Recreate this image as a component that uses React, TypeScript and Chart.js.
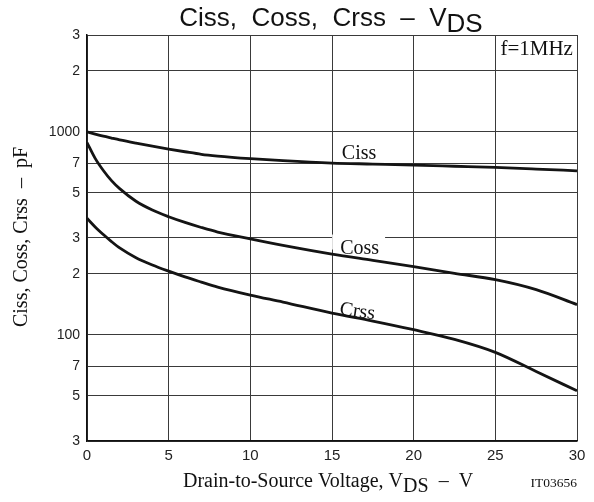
import React, { useEffect, useRef } from "react";
import { Chart, registerables } from "chart.js";

Chart.register(...registerables);

const voltage = [0, 0.5, 1, 1.5, 2, 3, 4, 5, 6, 7, 8, 10, 12, 15, 17.5, 20, 22.5, 25, 27.5, 30];
const ciss = [1000, 975, 952, 932, 913, 880, 850, 823, 798, 775, 760, 738, 721, 702, 694, 686, 677, 668, 656, 643];
const coss = [886, 740, 645, 575, 525, 455, 412, 382, 358, 338, 321, 297, 276, 250, 233, 217, 201, 187, 167, 141];
const crss = [375, 340, 312, 288, 268, 240, 221, 206, 193, 182, 172, 157, 145, 128, 117, 106, 95, 82, 66, 53];

const xTicks = [0, 5, 10, 15, 20, 25, 30];
const yTicks = [30, 50, 70, 100, 200, 300, 500, 700, 1000, 2000, 3000];
const yTickLabels = ["3", "5", "7", "100", "2", "3", "5", "7", "1000", "2", "3"];

const SANS = '"Liberation Sans", Arial, sans-serif';
const SERIF = '"Liberation Serif", "Times New Roman", serif';

function drawWithSub(
  ctx: CanvasRenderingContext2D,
  pre: string,
  sub: string,
  post: string,
  cx: number,
  base: number,
  font: string,
  drop: number
) {
  ctx.font = font;
  const w1 = ctx.measureText(pre).width;
  const w2 = ctx.measureText(sub).width;
  const w3 = ctx.measureText(post).width;
  let x = cx - (w1 + w2 + w3) / 2;
  ctx.textAlign = "left";
  ctx.textBaseline = "alphabetic";
  ctx.fillText(pre, x, base);
  x += w1;
  ctx.fillText(sub, x, base + drop);
  x += w2;
  ctx.fillText(post, x, base);
}

const textPlugin = {
  id: "texts",
  afterDraw(chart: any) {
    const ctx: CanvasRenderingContext2D = chart.ctx;
    const xs = chart.scales.x;
    const ys = chart.scales.y;
    ctx.save();
    ctx.fillStyle = "#111";

    // title
    drawWithSub(ctx, "Ciss,  Coss,  Crss  \u2013  V", "DS", "", 331, 26, `26px ${SANS}`, 6);

    // x axis title
    drawWithSub(ctx, "Drain-to-Source Voltage, V", "DS", "  \u2013  V", 328, 487, `20px ${SERIF}`, 5);

    ctx.font = `13.5px ${SERIF}`;
    ctx.textAlign = "right";
    ctx.fillText("IT03656", 577, 487);

    // y axis title
    ctx.save();
    ctx.translate(27, 237);
    ctx.rotate(-Math.PI / 2);
    ctx.font = `20px ${SERIF}`;
    ctx.textAlign = "center";
    ctx.fillText("Ciss, Coss, Crss  \u2013  pF", 0, 0);
    ctx.restore();

    // frequency note
    ctx.font = `21px ${SERIF}`;
    ctx.textAlign = "right";
    ctx.fillText("f=1MHz", xs.getPixelForValue(29.75), ys.getPixelForValue(2388));

    // curve labels
    ctx.font = `20px ${SERIF}`;
    ctx.textAlign = "left";
    ctx.fillText("Ciss", xs.getPixelForValue(15.6), ys.getPixelForValue(737));

    const cx = xs.getPixelForValue(15.5);
    const cy = ys.getPixelForValue(251.5);
    const cw = ctx.measureText("Coss").width;
    ctx.fillStyle = "#fff";
    ctx.fillRect(cx - 8, cy - 19, cw + 14, 15);
    ctx.fillStyle = "#111";
    ctx.fillText("Coss", cx, cy);

    ctx.save();
    ctx.translate(xs.getPixelForValue(15.43), ys.getPixelForValue(126));
    ctx.rotate((8 * Math.PI) / 180);
    ctx.font = `20px ${SERIF}`;
    ctx.fillText("Crss", 0, 0);
    ctx.restore();

    ctx.restore();
  },
};

export default function App() {
  const ref = useRef<HTMLCanvasElement | null>(null);

  useEffect(() => {
    if (!ref.current) return;
    const mk = (vals: number[]) => voltage.map((v, i) => ({ x: v, y: vals[i] }));
    const common = {
      borderColor: "#141414",
      borderWidth: 2.8,
      pointRadius: 0,
      fill: false,
      cubicInterpolationMode: "monotone" as const,
    };
    const chart = new Chart(ref.current, {
      type: "line",
      data: {
        datasets: [
          { label: "Ciss", data: mk(ciss), ...common },
          { label: "Coss", data: mk(coss), ...common },
          { label: "Crss", data: mk(crss), ...common },
        ],
      },
      options: {
        responsive: false,
        animation: false,
        devicePixelRatio: 1,
        layout: { padding: { left: 0, right: 17, top: 35, bottom: 0 } },
        plugins: {
          legend: { display: false },
          tooltip: { enabled: false },
          title: { display: false },
        },
        scales: {
          x: {
            type: "linear",
            min: 0,
            max: 30,
            afterBuildTicks: (scale: any) => {
              scale.ticks = xTicks.map((v) => ({ value: v }));
            },
            afterFit: (scale: any) => {
              scale.height = 61;
            },
            grid: { color: "#3a3a3a", lineWidth: 1, drawTicks: false },
            border: { color: "#111", width: 1.5 },
            ticks: {
              color: "#222",
              font: { family: SANS, size: 15 },
              padding: 6,
              maxRotation: 0,
              callback: (v: any) => String(v),
            },
          },
          y: {
            type: "logarithmic",
            min: 30,
            max: 3000,
            afterBuildTicks: (scale: any) => {
              scale.ticks = yTicks.map((v) => ({ value: v }));
            },
            afterFit: (scale: any) => {
              scale.width = 87;
            },
            grid: { color: "#3a3a3a", lineWidth: 1, drawTicks: false },
            border: { color: "#111", width: 1.5 },
            ticks: {
              color: "#222",
              font: { family: SANS, size: 14 },
              padding: 7,
              autoSkip: false,
              callback: (v: any) => {
                const i = yTicks.indexOf(Number(v));
                return i >= 0 ? yTickLabels[i] : "";
              },
            },
          },
        },
      },
      plugins: [textPlugin],
    });
    return () => chart.destroy();
  }, []);

  return (
    <div style={{ position: "fixed", left: 0, top: 0, width: 594, height: 502, background: "#fff" }}>
      <canvas ref={ref} width={594} height={502} style={{ width: 594, height: 502 }} />
    </div>
  );
}
